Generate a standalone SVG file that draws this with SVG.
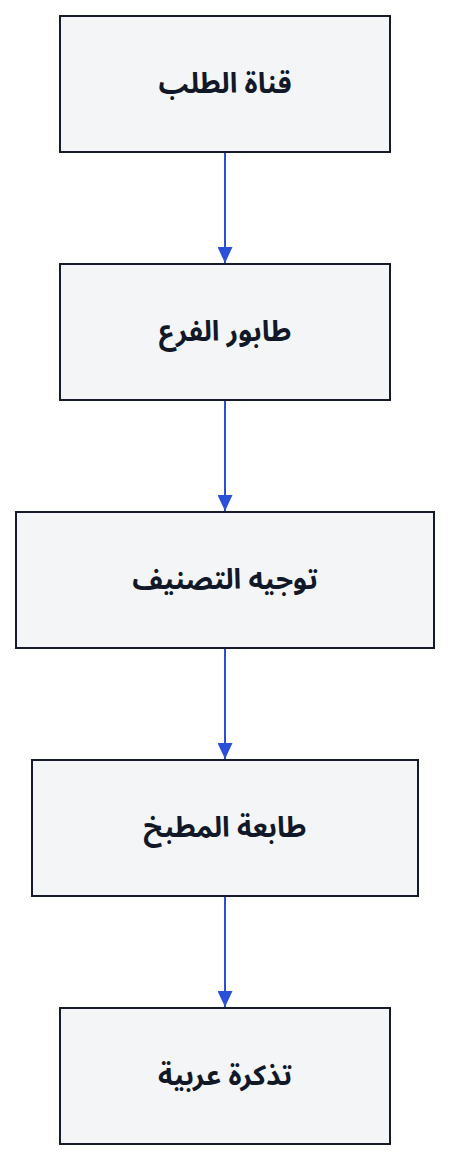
<svg xmlns="http://www.w3.org/2000/svg" width="450" height="1160" viewBox="0 0 450 1160">
<style>
.node rect{fill:#f4f5f7;stroke:#151b2b;stroke-width:2}
.node text{font-family:"Noto Sans Arabic","Noto Sans Arabic UI","Noto Sans","DejaVu Sans",sans-serif;font-size:28px;font-weight:bold;fill:#111827;text-anchor:middle;dominant-baseline:central}
.edge{stroke:#2a50d8;stroke-width:2;fill:none}
</style>
<defs>
<marker id="arrow" viewBox="0 0 16 15" refX="16" refY="7.5" markerWidth="16" markerHeight="15" markerUnits="userSpaceOnUse" orient="auto">
<path d="M0,0 L16,7.5 L0,15 Z" fill="#2a50d8"/>
</marker>
</defs>
<rect width="450" height="1160" fill="#ffffff"/>
<g id="connectors">
<line class="edge" x1="225" y1="152" x2="225" y2="263" marker-end="url(#arrow)"/>
<line class="edge" x1="225" y1="400" x2="225" y2="511" marker-end="url(#arrow)"/>
<line class="edge" x1="225" y1="648" x2="225" y2="759" marker-end="url(#arrow)"/>
<line class="edge" x1="225" y1="896" x2="225" y2="1007" marker-end="url(#arrow)"/>
</g>
<g id="node1" class="node"><rect x="60" y="16" width="330" height="136"/><text x="225" y="84">قناة الطلب</text></g>
<g id="node2" class="node"><rect x="60" y="264" width="330" height="136"/><text x="225" y="332">طابور الفرع</text></g>
<g id="node3" class="node"><rect x="16" y="512" width="418" height="136"/><text x="225" y="580">توجيه التصنيف</text></g>
<g id="node4" class="node"><rect x="32" y="760" width="386" height="136"/><text x="225" y="828">طابعة المطبخ</text></g>
<g id="node5" class="node"><rect x="60" y="1008" width="330" height="136"/><text x="225" y="1076">تذكرة عربية</text></g>
</svg>
